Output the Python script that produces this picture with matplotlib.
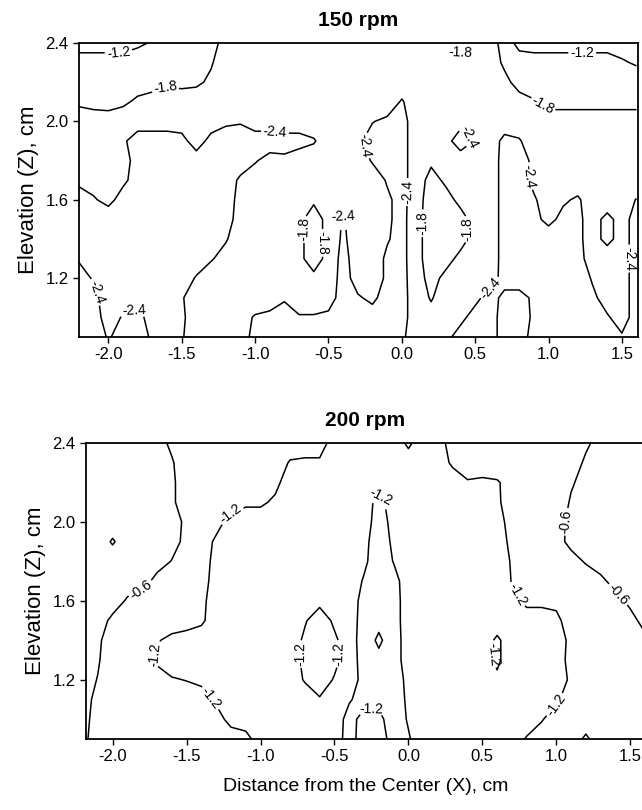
import numpy as np
import matplotlib
matplotlib.use("Agg")
import matplotlib.pyplot as plt

plt.rcParams['font.family'] = ['Liberation Sans', 'DejaVu Sans']

# grid positions (cm)
x_pos = [-2.2, -2.1, -2.0, -1.9, -1.8, -1.7, -1.6, -1.5, -1.4, -1.3, -1.2, -1.1, -1.0,
         -0.9, -0.8, -0.7, -0.6, -0.5, -0.4, -0.3, -0.2, -0.1, 0.0, 0.1, 0.2, 0.3,
         0.4, 0.5, 0.6, 0.7, 0.8, 0.9, 1.0, 1.1, 1.2, 1.3, 1.4, 1.5, 1.6]
z_pos_top_down = [2.4, 2.3, 2.2, 2.1, 2.0, 1.9, 1.8, 1.7, 1.6, 1.5, 1.4, 1.3, 1.2, 1.1, 1.0, 0.9]

# 150 rpm field (rows from z=2.4 down to z=0.9)
field_150 = [
    [-1.0,-1.0,-1.0,-1.0,-1.1,-1.25,-1.5,-1.5,-1.5,-1.6,-2.0,-2.1,-2.1,-2.1,-2.1,-2.1,-2.1,-2.1,-2.1,-2.1,-2.1,-2.1,-2.1,-2.1,-2.1,-2.1,-1.5,-2.0,-2.1,-1.55,-1.0,-1.0,-1.0,-1.0,-1.0,-1.0,-1.0,-1.0,-1.0],
    [-1.4,-1.4,-1.4,-1.4,-1.5,-1.5,-1.5,-1.5,-1.6,-1.75,-2.1,-2.1,-2.1,-2.1,-2.1,-2.1,-2.1,-2.1,-2.1,-2.1,-2.1,-2.1,-2.1,-2.1,-2.1,-2.1,-2.1,-2.1,-2.1,-1.7,-1.5,-1.4,-1.4,-1.4,-1.4,-1.4,-1.4,-1.25,-1.15],
    [-1.5,-1.5,-1.5,-1.5,-1.55,-1.6,-1.7,-1.65,-1.7,-1.9,-2.1,-2.1,-2.1,-2.1,-2.1,-2.1,-2.1,-2.1,-2.1,-2.1,-2.1,-2.1,-2.1,-2.1,-2.1,-2.1,-2.1,-2.1,-2.1,-1.95,-1.6,-1.5,-1.5,-1.5,-1.5,-1.5,-1.5,-1.5,-1.45],
    [-1.7,-1.6,-1.55,-1.7,-1.9,-2.0,-2.1,-2.1,-2.1,-2.1,-2.1,-2.1,-2.1,-2.1,-2.1,-2.1,-2.1,-2.1,-2.1,-2.1,-2.1,-2.1,-2.45,-2.1,-2.1,-2.1,-2.1,-2.1,-2.1,-2.1,-2.0,-1.85,-1.7,-1.7,-1.7,-1.7,-1.7,-1.7,-1.7],
    [-2.1,-2.1,-2.1,-2.1,-2.1,-2.1,-2.1,-2.1,-2.1,-2.1,-2.3,-2.35,-2.1,-2.1,-2.1,-2.1,-2.1,-2.1,-2.1,-2.1,-2.38,-2.5,-2.6,-2.1,-2.1,-2.1,-2.2,-2.1,-2.1,-2.1,-2.1,-2.05,-1.95,-1.95,-1.95,-1.95,-1.95,-1.95,-1.95],
    [-2.1,-2.1,-2.1,-2.3,-2.7,-2.7,-2.7,-2.6,-2.1,-2.6,-2.7,-2.7,-2.7,-2.7,-2.6,-2.6,-2.45,-2.1,-2.1,-2.3,-2.6,-2.7,-2.6,-2.1,-2.1,-2.2,-2.7,-2.35,-2.1,-2.55,-2.45,-2.1,-2.1,-2.1,-2.1,-2.1,-2.1,-2.1,-2.1],
    [-2.1,-2.1,-2.1,-2.2,-2.6,-2.7,-2.7,-2.7,-2.7,-2.7,-2.7,-2.7,-2.45,-2.2,-2.3,-2.1,-2.1,-2.1,-2.1,-2.1,-2.45,-2.7,-2.6,-2.1,-1.9,-2.0,-2.1,-2.1,-2.1,-2.6,-2.6,-2.3,-2.1,-2.1,-2.1,-2.1,-2.1,-2.1,-2.1],
    [-2.3,-2.2,-2.1,-2.3,-2.6,-2.7,-2.7,-2.7,-2.7,-2.7,-2.7,-2.3,-2.1,-2.1,-2.1,-2.1,-2.1,-2.1,-2.1,-2.1,-2.1,-2.45,-2.6,-2.1,-1.6,-1.9,-2.1,-2.1,-2.1,-2.6,-2.6,-2.3,-2.1,-2.1,-2.2,-2.1,-2.1,-2.1,-2.1],
    [-2.6,-2.45,-2.25,-2.6,-2.7,-2.7,-2.7,-2.7,-2.7,-2.7,-2.7,-2.2,-2.1,-2.1,-2.1,-2.1,-1.9,-2.1,-2.1,-2.1,-2.1,-2.3,-2.6,-2.05,-1.5,-1.6,-1.95,-2.1,-2.1,-2.6,-2.6,-2.45,-2.2,-2.35,-2.45,-2.2,-2.1,-2.2,-2.42],
    [-2.7,-2.7,-2.7,-2.7,-2.7,-2.7,-2.7,-2.7,-2.7,-2.7,-2.6,-2.2,-2.1,-2.1,-2.1,-1.95,-1.5,-2.0,-2.45,-2.1,-2.1,-2.3,-2.6,-2.0,-1.5,-1.5,-1.6,-2.0,-2.1,-2.6,-2.6,-2.5,-2.3,-2.5,-2.5,-2.2,-2.55,-2.2,-2.6],
    [-2.7,-2.7,-2.7,-2.7,-2.7,-2.7,-2.7,-2.7,-2.7,-2.7,-2.45,-2.1,-2.1,-2.1,-2.1,-1.95,-1.5,-2.0,-2.5,-2.1,-2.1,-2.35,-2.6,-2.0,-1.5,-1.5,-1.6,-2.0,-2.1,-2.6,-2.7,-2.7,-2.6,-2.6,-2.5,-2.2,-2.55,-2.2,-2.6],
    [-2.45,-2.7,-2.7,-2.7,-2.7,-2.7,-2.7,-2.7,-2.7,-2.45,-2.2,-2.1,-2.1,-2.1,-2.1,-1.95,-1.5,-2.0,-2.6,-2.1,-2.1,-2.5,-2.6,-2.0,-1.5,-1.6,-1.95,-2.1,-2.1,-2.6,-2.7,-2.7,-2.7,-2.7,-2.55,-2.2,-2.1,-2.2,-2.6],
    [-2.2,-2.45,-2.7,-2.7,-2.7,-2.7,-2.7,-2.7,-2.35,-2.1,-2.1,-2.1,-2.1,-2.1,-2.1,-2.1,-1.95,-2.1,-2.6,-2.2,-2.1,-2.5,-2.6,-2.05,-1.6,-1.95,-2.1,-2.1,-2.2,-2.55,-2.7,-2.7,-2.7,-2.7,-2.7,-2.35,-2.1,-2.2,-2.6],
    [-2.1,-2.3,-2.6,-2.7,-2.6,-2.7,-2.7,-2.45,-2.1,-2.1,-2.1,-2.1,-2.1,-2.1,-2.35,-2.1,-2.1,-2.2,-2.6,-2.45,-2.3,-2.6,-2.6,-2.1,-1.75,-2.1,-2.1,-2.3,-2.55,-2.3,-2.2,-2.5,-2.7,-2.7,-2.7,-2.5,-2.2,-2.2,-2.6],
    [-2.1,-2.3,-2.5,-2.38,-2.25,-2.6,-2.7,-2.5,-2.1,-2.1,-2.1,-2.2,-2.45,-2.55,-2.6,-2.45,-2.45,-2.5,-2.7,-2.6,-2.6,-2.7,-2.6,-2.1,-2.0,-2.1,-2.3,-2.55,-2.6,-2.2,-2.1,-2.5,-2.7,-2.7,-2.7,-2.6,-2.45,-2.2,-2.6],
    [-2.1,-2.1,-2.45,-2.2,-2.1,-2.5,-2.7,-2.45,-2.1,-2.1,-2.1,-2.1,-2.6,-2.7,-2.7,-2.7,-2.7,-2.7,-2.7,-2.7,-2.7,-2.7,-2.5,-2.1,-2.1,-2.3,-2.55,-2.7,-2.6,-2.2,-2.2,-2.55,-2.7,-2.7,-2.7,-2.7,-2.6,-2.45,-2.6],
]

# 200 rpm field (rows from z=2.4 down to z=0.9)
field_200 = [
    [-0.4,-0.4,-0.4,-0.4,-0.4,-0.4,-0.7,-0.9,-0.9,-0.9,-0.9,-0.9,-0.9,-0.9,-0.9,-0.9,-0.9,-1.5,-1.5,-1.5,-1.5,-1.5,-1.1,-1.5,-1.5,-0.9,-0.9,-0.9,-0.9,-0.9,-0.9,-0.9,-0.9,-0.9,-0.7,-0.4,-0.4,-0.4,-0.4],
    [-0.4,-0.4,-0.4,-0.4,-0.4,-0.4,-0.55,-0.9,-0.9,-0.9,-0.9,-0.9,-0.9,-0.9,-1.25,-1.3,-1.3,-1.5,-1.5,-1.5,-1.5,-1.5,-1.45,-1.5,-1.5,-1.1,-0.9,-0.9,-0.9,-0.9,-0.9,-0.9,-0.9,-0.9,-0.5,-0.4,-0.4,-0.4,-0.4],
    [-0.4,-0.4,-0.4,-0.4,-0.4,-0.4,-0.5,-0.9,-0.9,-0.9,-0.9,-0.9,-0.9,-1.05,-1.5,-1.5,-1.5,-1.5,-1.5,-1.5,-1.5,-1.5,-1.5,-1.5,-1.5,-1.5,-1.25,-1.3,-1.25,-1.0,-0.9,-0.9,-0.9,-0.65,-0.45,-0.4,-0.4,-0.4,-0.4],
    [-0.4,-0.4,-0.4,-0.4,-0.4,-0.4,-0.5,-0.9,-0.9,-0.9,-0.9,-1.1,-1.1,-1.3,-1.5,-1.5,-1.5,-1.5,-1.5,-1.5,-1.0,-1.5,-1.5,-1.5,-1.5,-1.5,-1.5,-1.5,-1.3,-0.9,-0.9,-0.9,-0.9,-0.55,-0.4,-0.4,-0.4,-0.4,-0.4],
    [-0.4,-0.4,-0.4,-0.4,-0.4,-0.4,-0.4,-0.7,-0.9,-1.0,-1.4,-1.5,-1.5,-1.5,-1.5,-1.5,-1.5,-1.5,-1.5,-1.5,-0.9,-1.4,-1.5,-1.5,-1.5,-1.5,-1.5,-1.5,-1.5,-0.9,-0.9,-0.9,-0.9,-0.4,-0.4,-0.4,-0.4,-0.4,-0.4],
    [-0.4,-0.4,-0.64,-0.4,-0.4,-0.4,-0.4,-0.75,-0.9,-1.3,-1.5,-1.5,-1.5,-1.5,-1.5,-1.5,-1.5,-1.5,-1.5,-1.35,-0.9,-1.3,-1.5,-1.5,-1.5,-1.5,-1.5,-1.5,-1.5,-1.05,-0.9,-0.9,-0.8,-0.45,-0.4,-0.4,-0.4,-0.4,-0.4],
    [-0.4,-0.4,-0.4,-0.4,-0.4,-0.4,-0.62,-0.9,-0.9,-1.4,-1.5,-1.5,-1.5,-1.5,-1.5,-1.5,-1.5,-1.5,-1.5,-1.3,-0.9,-1.22,-1.5,-1.5,-1.5,-1.5,-1.5,-1.5,-1.5,-1.15,-0.9,-0.9,-0.9,-0.8,-0.55,-0.4,-0.4,-0.4,-0.4],
    [-0.4,-0.4,-0.4,-0.4,-0.4,-0.75,-0.9,-0.9,-0.9,-1.5,-1.5,-1.5,-1.5,-1.5,-1.5,-1.5,-1.5,-1.5,-1.5,-1.15,-0.9,-1.0,-1.5,-1.5,-1.5,-1.5,-1.5,-1.5,-1.5,-1.18,-0.9,-0.9,-0.9,-0.9,-0.9,-0.7,-0.45,-0.4,-0.4],
    [-0.4,-0.4,-0.4,-0.65,-0.9,-0.9,-0.9,-0.9,-1.05,-1.5,-1.5,-1.5,-1.5,-1.5,-1.5,-1.5,-1.35,-1.5,-1.5,-1.0,-0.9,-0.95,-1.5,-1.5,-1.5,-1.5,-1.5,-1.5,-1.5,-1.4,-1.05,-1.05,-1.1,-0.9,-0.9,-0.9,-0.75,-0.5,-0.4],
    [-0.4,-0.4,-0.7,-0.9,-0.9,-0.9,-0.9,-0.9,-1.1,-1.5,-1.5,-1.5,-1.5,-1.5,-1.5,-1.25,-0.9,-1.3,-1.5,-0.95,-0.75,-0.95,-1.5,-1.5,-1.5,-1.5,-1.5,-1.5,-1.5,-1.5,-1.5,-1.5,-1.3,-1.0,-0.9,-0.9,-0.9,-0.75,-0.45],
    [-0.4,-0.5,-0.9,-0.9,-0.9,-1.15,-1.35,-1.5,-1.5,-1.5,-1.5,-1.5,-1.5,-1.5,-1.5,-1.1,-0.9,-1.1,-1.5,-0.9,-0.5,-0.9,-1.5,-1.5,-1.5,-1.5,-1.5,-1.5,-1.1,-1.5,-1.5,-1.5,-1.5,-1.05,-0.9,-0.9,-0.9,-0.8,-0.7],
    [-0.4,-0.55,-0.9,-0.9,-0.9,-1.3,-1.5,-1.5,-1.5,-1.5,-1.5,-1.5,-1.5,-1.5,-1.5,-1.05,-0.9,-1.05,-1.5,-0.95,-0.75,-0.9,-1.5,-1.5,-1.5,-1.5,-1.5,-1.5,-1.1,-1.5,-1.5,-1.5,-1.5,-1.0,-0.9,-0.9,-0.9,-0.9,-0.9],
    [-0.4,-0.62,-0.9,-0.9,-0.9,-0.95,-1.15,-1.22,-1.3,-1.5,-1.5,-1.5,-1.5,-1.5,-1.5,-1.15,-0.9,-1.25,-1.5,-1.0,-0.9,-0.9,-1.35,-1.5,-1.5,-1.5,-1.5,-1.5,-1.3,-1.5,-1.5,-1.5,-1.5,-1.1,-0.9,-0.9,-0.9,-0.9,-0.9],
    [-0.4,-0.75,-0.9,-0.9,-0.9,-0.9,-0.9,-0.9,-1.0,-1.3,-1.5,-1.5,-1.5,-1.5,-1.5,-1.5,-1.25,-1.5,-1.25,-1.0,-1.05,-0.9,-1.3,-1.5,-1.5,-1.5,-1.5,-1.5,-1.5,-1.5,-1.5,-1.5,-1.3,-0.9,-0.9,-0.9,-0.9,-0.9,-0.9],
    [-0.4,-0.85,-0.9,-0.9,-0.9,-0.9,-0.9,-0.9,-0.9,-0.95,-1.4,-1.5,-1.5,-1.5,-1.5,-1.5,-1.5,-1.5,-1.0,-1.4,-1.35,-0.9,-1.25,-1.5,-1.5,-1.5,-1.5,-1.5,-1.5,-1.5,-1.5,-1.25,-0.9,-0.9,-0.9,-0.9,-0.9,-0.9,-0.9],
    [-0.45,-0.9,-0.9,-0.9,-0.9,-0.9,-0.9,-0.9,-0.9,-0.9,-0.9,-1.0,-1.5,-1.5,-1.5,-1.5,-1.5,-1.5,-0.95,-1.5,-1.5,-0.95,-1.15,-1.5,-1.5,-1.5,-1.5,-1.5,-1.5,-1.5,-1.15,-0.9,-0.9,-0.9,-1.3,-0.9,-0.9,-0.9,-0.9],
]

levels_150 = [-2.4, -1.8, -1.2]
levels_200 = [-1.2, -0.6]

labels_150 = [(-1.93, 2.36), (1.23, 2.34), (-1.62, 2.19), (0.40, 2.33), (0.95, 2.07),
              (-0.70, 1.45), (-0.55, 1.38), (0.13, 1.48), (0.46, 1.45),
              (-0.86, 1.97), (-0.25, 1.88), (-0.41, 1.56), (0.03, 1.64), (0.46, 1.92),
              (0.87, 1.72), (0.62, 1.14), (1.55, 1.3), (-2.08, 1.13), (-1.83, 1.04)]
labels_200 = [(-1.81, 1.66), (1.07, 2.0), (1.43, 1.64),
              (-1.22, 2.06), (-1.72, 1.33), (-1.35, 1.1), (-0.73, 1.33), (-0.49, 1.33),
              (-0.2, 2.12), (0.7, 1.62), (0.57, 1.33), (1.03, 1.05), (-0.25, 1.04)]

x_ticks = [-2.0, -1.5, -1.0, -0.5, 0.0, 0.5, 1.0, 1.5]
z_ticks = [1.2, 1.6, 2.0, 2.4]

fig = plt.figure(figsize=(6.42, 8.10), dpi=100)
W, H = 642.0, 810.0
ax1 = fig.add_axes([79 / W, 1 - 337 / H, (638 - 79) / W, (337 - 43) / H])
ax2 = fig.add_axes([86 / W, 1 - 739 / H, (645 - 86) / W, (739 - 443) / H])

X = np.array(x_pos)
Zc = np.array(z_pos_top_down)[::-1]


def draw(ax, field, levels, labels, title, xlim):
    V = np.array(field)[::-1]
    cs = ax.contour(X, Zc, V, levels=levels, colors='black', linewidths=1.1,
                    linestyles='solid')
    ax.clabel(cs, fmt='%.1f', fontsize=10, inline=True, inline_spacing=2, manual=labels)
    ax.set_xlim(*xlim)
    ax.set_ylim(0.9, 2.4)
    ax.set_xticks(x_ticks)
    ax.set_xticklabels([f"{t:.1f}" for t in x_ticks])
    ax.set_yticks(z_ticks)
    ax.set_yticklabels([f"{t:.1f}" for t in z_ticks])
    ax.tick_params(direction='out', length=4, width=1, labelsize=12, top=False, right=False)
    for s in ax.spines.values():
        s.set_linewidth(1.3)
    ax.set_ylabel('Elevation (Z), cm', fontsize=16, labelpad=5)
    ax.set_title(title, fontsize=15, fontweight='bold', pad=12)


draw(ax1, field_150, levels_150, labels_150, '150 rpm', (-2.2, 1.61))
draw(ax2, field_200, levels_200, labels_200, '200 rpm', (-2.18, 1.6))
ax2.set_xlabel('Distance from the Center (X), cm', fontsize=14, labelpad=10)

fig.savefig('out.png', dpi=100)
